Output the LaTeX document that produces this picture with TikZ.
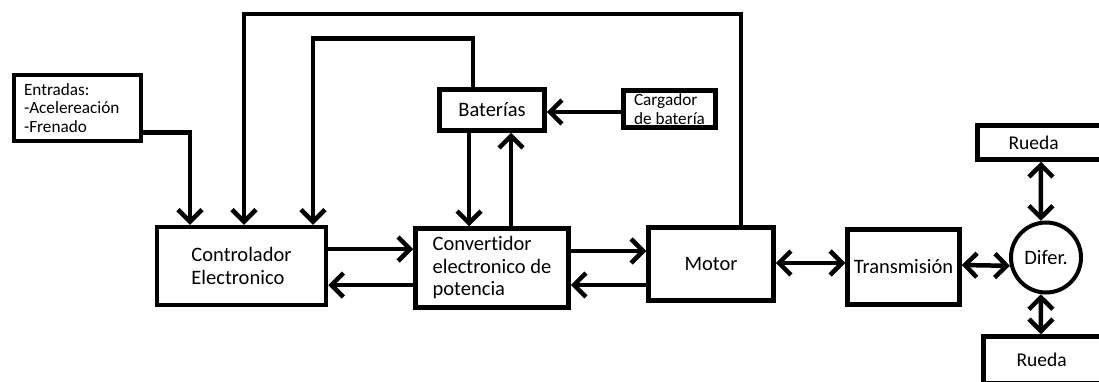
\documentclass[tikz,border=0pt]{standalone}
\usepackage{fontspec}
\setmainfont[Ligatures=NoCommon]{Carlito}
\usepackage{tikz}
\usetikzlibrary{arrows.meta}

\begin{document}
\begin{tikzpicture}[
  x=1pt, y=-1pt,
  box/.style={draw, line width=4.5pt, inner sep=0pt, align=left, font=\fontsize{20.5}{22.5}\selectfont},
  smallbox/.style={box, font=\fontsize{17.2}{18.5}\selectfont},
  arrow/.style={-{Straight Barb[length=12pt,width=24pt]}, line width=4.5pt},
  twoway/.style={{Straight Barb[length=12pt,width=24pt]}-{Straight Barb[length=12pt,width=24pt]}, line width=4.5pt}
]
\useasboundingbox (0,0) rectangle (1099,381);
\clip (0,0) rectangle (1099,381);

\node[smallbox, minimum width=127pt, minimum height=66pt, text width=107pt] (inputs) at (77.5,108) {Entradas:\\-Acelereación\\-Frenado};
\node[box, minimum width=169pt, minimum height=78pt] (ctrl) at (241.5,266) {Controlador\\Electronico};
\node[box, minimum width=153pt, minimum height=79pt] (conv) at (492,268) {Convertidor\\electronico de\\potencia};
\node[box, minimum width=105pt, minimum height=41pt] (bat) at (492,110) {Baterías};
\node[smallbox, minimum width=92pt, minimum height=37pt] (charger) at (669.5,109) {Cargador\\de batería};
\node[box, minimum width=125pt, minimum height=73pt] (motor) at (711,264) {Motor};
\node[box, minimum width=112pt, minimum height=75pt] (trans) at (903.5,267) {Transmisión};
\node[box, circle, line width=4pt, minimum size=70pt] (diff) at (1046,257.5) {Difer.};
\node[box, minimum width=132.5pt, minimum height=34pt, text width=70.5pt, font=\fontsize{19.5}{21}\selectfont] (wheelA) at (1043.75,142.5) {Rueda};
\node[box, minimum width=126.5pt, minimum height=46.5pt, text width=60.5pt, font=\fontsize{19.5}{21}\selectfont] (wheelB) at (1046.75,359.75) {Rueda};

% lazos de realimentacion hacia el controlador
\draw[arrow] ([yshift=11pt]inputs.south east) -| ([xshift=-51.5pt]ctrl.north);
\draw[arrow] ([xshift=30pt]motor.north) -- ++(0,-211.5) -| ([xshift=2.5pt]ctrl.north);
\draw[arrow] ([xshift=-19pt]bat.north) -- ++(0,-49) -| ([xshift=71.5pt]ctrl.north);

\draw[arrow] ([yshift=17pt]ctrl.east) -- ([yshift=19pt]conv.west);
\draw[arrow] ([yshift=-17pt]conv.west) -- ([yshift=-19pt]ctrl.east);
\draw[arrow] ([yshift=17pt]conv.east) -- ([yshift=13pt]motor.west);
\draw[arrow] ([yshift=-21pt]motor.west) -- ([yshift=-17pt]conv.east);

\draw[arrow] ([xshift=-23pt]bat.south) -- ([xshift=-23pt]conv.north);
\draw[arrow] ([xshift=19pt]conv.north) -- ([xshift=19pt]bat.south);
\draw[arrow] ([yshift=-3pt]charger.west) -- ([yshift=-2pt]bat.east);

\draw[twoway] ([yshift=1pt]motor.east) -- ([yshift=4pt]trans.west);
\draw[twoway] ([yshift=2pt]trans.east) -- (diff.193);
\draw[twoway] ([xshift=-2.75pt]wheelA.south) -- (diff.98);
\draw[twoway] (diff.262) -- ([xshift=-5.75pt]wheelB.north);

\end{tikzpicture}
\end{document}
